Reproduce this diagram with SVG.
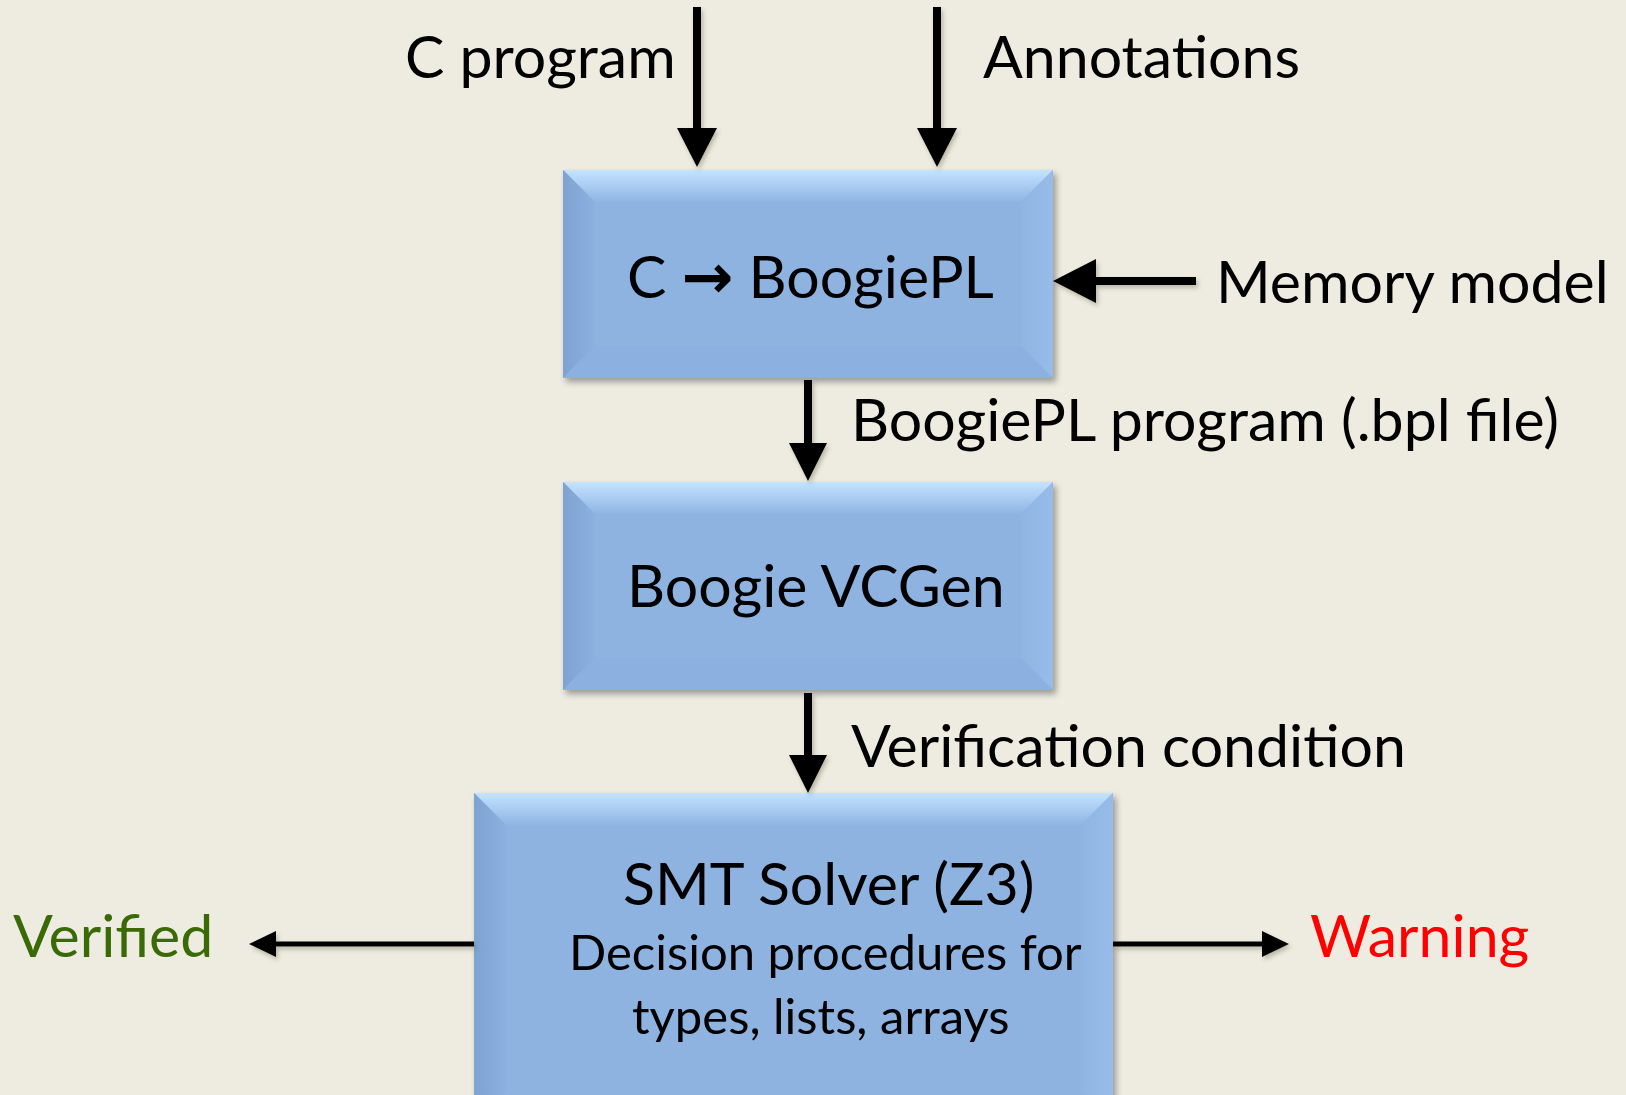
<svg xmlns="http://www.w3.org/2000/svg" width="1626" height="1095" viewBox="0 0 1626 1095">
<defs>
<style>
.t{font-family:Lato,"Liberation Sans",sans-serif;font-size:59px;fill:#000}
.s{font-family:Lato,"Liberation Sans",sans-serif;font-size:49px;fill:#000}
.ar{font-family:"DejaVu Sans",sans-serif;font-weight:bold;font-size:62px}
.ln{stroke:#000;stroke-width:8;fill:none}
.ln2{stroke:#000;stroke-width:5;fill:none}
.hd{fill:#000}
</style>
<linearGradient id="gTop" x1="0" y1="0" x2="0" y2="1"><stop offset="0" stop-color="#c4e3ff"/><stop offset="1" stop-color="#90b5e4"/></linearGradient>
<linearGradient id="gLeft" x1="0" y1="0" x2="1" y2="0"><stop offset="0" stop-color="#7ea3d1"/><stop offset="1" stop-color="#8cb0df"/></linearGradient>
<linearGradient id="gRight" x1="0" y1="0" x2="1" y2="0"><stop offset="0" stop-color="#90b5e3"/><stop offset="1" stop-color="#98bce9"/></linearGradient>
<filter id="sh" x="-10%" y="-10%" width="130%" height="130%"><feDropShadow dx="3" dy="4" stdDeviation="3" flood-color="#000" flood-opacity="0.35"/></filter>
<filter id="ash" x="-20%" y="-20%" width="140%" height="160%"><feDropShadow dx="2" dy="3" stdDeviation="2" flood-color="#5a5a40" flood-opacity="0.35"/></filter>
</defs>
<rect width="1626" height="1095" fill="#eeebe0"/>

<g id="box1" filter="url(#sh)">
<rect x="563" y="170" width="490" height="208" fill="#8eb3e1"/>
<polygon points="563,170 1053,170 1021,202 595,202" fill="url(#gTop)"/>
<polygon points="563,170 595,202 595,346 563,378" fill="url(#gLeft)"/>
<polygon points="1053,170 1021,202 1021,346 1053,378" fill="url(#gRight)"/>
<polygon points="563,378 595,346 1021,346 1053,378" fill="#8cb0df"/>
<text class="t" x="627" y="298">C <tspan class="ar">→</tspan> BoogiePL</text>
</g>

<g id="box2" filter="url(#sh)">
<rect x="563" y="482" width="490" height="208" fill="#8eb3e1"/>
<polygon points="563,482 1053,482 1021,514 595,514" fill="url(#gTop)"/>
<polygon points="563,482 595,514 595,658 563,690" fill="url(#gLeft)"/>
<polygon points="1053,482 1021,514 1021,658 1053,690" fill="url(#gRight)"/>
<polygon points="563,690 595,658 1021,658 1053,690" fill="#8cb0df"/>
<text class="t" x="627" y="607">Boogie VCGen</text>
</g>

<g id="box3" filter="url(#sh)">
<rect x="474" y="793" width="639" height="330" fill="#8eb3e1"/>
<polygon points="474,793 1113,793 1081,825 506,825" fill="url(#gTop)"/>
<polygon points="474,793 506,825 506,1091 474,1123" fill="url(#gLeft)"/>
<polygon points="1113,793 1081,825 1081,1091 1113,1123" fill="url(#gRight)"/>
<text class="t" x="623" y="905">SMT Solver (Z3)</text>
<text class="s" x="569" y="970">Decision procedures for</text>
<text class="s" x="632" y="1034">types, lists, arrays</text>
</g>

<g id="labels">
<text class="t" x="405" y="78">C program</text>
<text class="t" x="983" y="78">Annotations</text>
<text class="t" x="1216" y="303">Memory model</text>
<text class="t" x="851" y="441">BoogiePL program (.bpl file)</text>
<text class="t" x="851" y="767">Verification condition</text>
<text class="t" x="13" y="957" style="fill:#3a6a06">Verified</text>
<text class="t" x="1310" y="957" style="fill:#ff0000">Warning</text>
</g>

<g id="connectors" filter="url(#ash)">
<line class="ln" x1="697" y1="7" x2="697" y2="130"/>
<polygon class="hd" points="677,128 717,128 697,167"/>
<line class="ln" x1="937" y1="7" x2="937" y2="130"/>
<polygon class="hd" points="917,128 957,128 937,167"/>
<line class="ln" x1="1196" y1="281" x2="1094" y2="281"/>
<polygon class="hd" points="1096,259 1096,303 1053,281"/>
<line class="ln" x1="808" y1="380" x2="808" y2="445"/>
<polygon class="hd" points="789,443 827,443 808,481"/>
<line class="ln" x1="808" y1="693" x2="808" y2="757"/>
<polygon class="hd" points="789,755 827,755 808,793"/>
<line class="ln2" x1="474" y1="944" x2="273" y2="944"/>
<polygon class="hd" points="276,931 276,957 249,944"/>
<line class="ln2" x1="1113" y1="944" x2="1264" y2="944"/>
<polygon class="hd" points="1262,931 1262,957 1289,944"/>
</g>
</svg>
